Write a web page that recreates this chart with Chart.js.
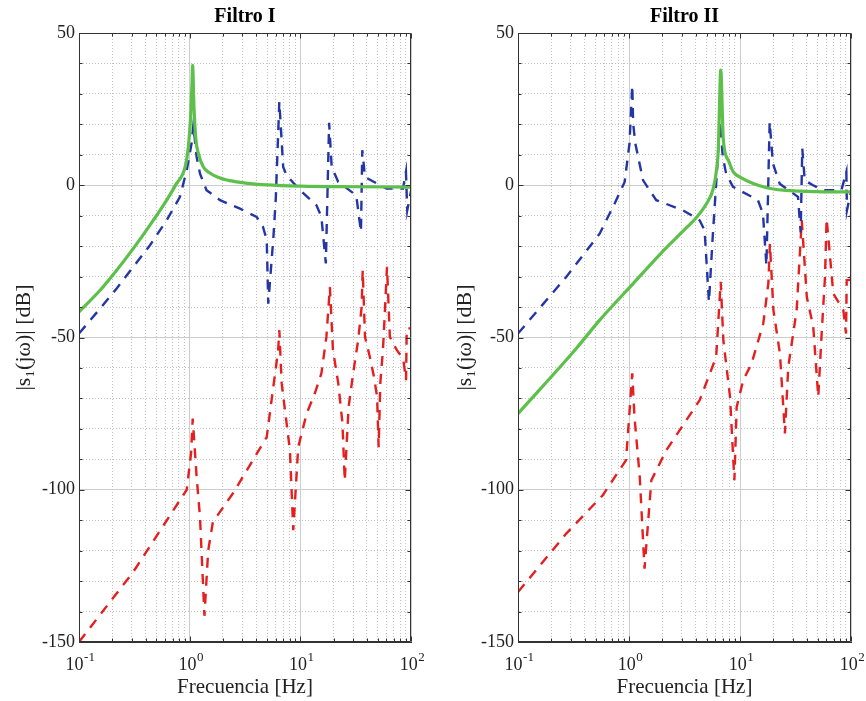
<!DOCTYPE html>
<html lang="es">
<head>
<meta charset="UTF-8">
<title>Filtro I / Filtro II</title>
<script src="https://cdn.jsdelivr.net/npm/chart.js"></script>
<style>
  html, body { margin: 0; padding: 0; background: #fff; }
  #wrap { position: relative; width: 866px; height: 701px; }
  .box { position: absolute; top: 0; width: 433px; height: 701px; }
  #box1 { left: 0; }
  #box2 { left: 433px; }
</style>
</head>
<body>
<div id="wrap">
  <div class="box" id="box1"><canvas id="chart1" width="433" height="701"></canvas></div>
  <div class="box" id="box2"><canvas id="chart2" width="433" height="701"></canvas></div>
</div>

<script>
// Axis ticks
const xMajorTicks = [0.1, 1, 10, 100];
const xTickBase = ['10', '10', '10', '10'];
const xTickExp = ['-1', '0', '1', '2'];
const yTickValues = [50, 0, -50, -100, -150];
const yTickLabels = ['50', '0', '-50', '-100', '-150'];

// Filtro I - green (solid)
const f1Green  = [0.1, 0.155, 0.219, 0.309, 0.438, 0.62, 0.75, 0.91, 0.973, 1.02, 1.05, 1.062, 1.094, 1.14, 1.2, 1.33, 1.5, 1.8, 2.3, 3.2, 5, 10, 30, 100];
const db1Green = [-41.6, -34.5, -27.9, -20.8, -13.1, -4.9, 0.2, 6, 12.6, 22.4, 33.4, 39.4, 25.7, 14.8, 10.4, 6, 4.2, 2.6, 1.5, 0.7, 0.1, -0.3, -0.5, -0.6];

// Filtro I - blue (dashed)
const f1Blue  = [0.1, 0.155, 0.219, 0.309, 0.438, 0.62, 0.817, 0.94, 1.04, 1.08, 1.156, 1.24, 1.42, 1.88, 2.85, 4.03, 4.6, 4.97, 5.13, 5.7, 6.0, 6.46, 7.0, 7.5, 9.9, 14, 15.5, 17, 18.2, 19.2, 22, 32, 35.3, 36.3, 38.4, 60, 84.6, 90, 92.5, 100];
const db1Blue = [-48.7, -40.5, -33.9, -26.8, -19.7, -11.5, -3.8, 4.9, 13.7, 19.7, 9.3, 3.8, -1.6, -4.9, -7.7, -10.4, -13.7, -18, -38.9, -17.5, -4.4, 27.4, 6, 3.3, -1.6, -6.6, -10.4, -25.7, 20.5, 6, 1.1, -3.3, -15.3, 11.5, 2.7, -1.1, -1.1, 4.4, -8.2, -2];

// Filtro I - red (dashed)
const f1Red  = [0.1, 0.309, 0.94, 1.03, 1.065, 1.156, 1.24, 1.36, 1.47, 1.62, 2.48, 4.97, 6.3, 6.46, 6.78, 8.05, 8.63, 9.57, 11.4, 13.5, 15.5, 17.2, 18.5, 19.7, 22, 24, 25.2, 27.3, 30, 33.3, 35.8, 36.6, 38.4, 42.5, 46.3, 49.4, 51, 52.8, 55.8, 57.8, 60.7, 64.4, 74, 85, 90.2, 91.5, 100];
const db1Red = [-150, -127, -100, -88, -76.6, -95.8, -109, -141.4, -120, -110.6, -101, -82.7, -54.2, -47.6, -65, -87, -113.3, -86, -75, -68.4, -61.8, -49.8, -33.4, -54, -65, -78, -97, -72.8, -61.8, -50.9, -40, -27.9, -49.8, -56.4, -63, -69.5, -86, -65, -54, -43, -26.8, -49.8, -54, -57, -64, -47, -47];

// Filtro II - green (solid)
const f2Green  = [0.1, 0.335, 0.544, 1.09, 2.17, 3.08, 4.07, 5.0, 5.75, 6.17, 6.38, 6.52, 6.7, 7.08, 7.86, 8.7, 10, 17.4, 34.7, 100];
const db2Green = [-75, -53.6, -44.3, -32.3, -20.5, -15, -10.5, -6, -1, 5.5, 12, 24.6, 37.8, 14.8, 8.2, 4.4, 2.7, -0.8, -1.9, -2.2];

// Filtro II - blue (dashed)
const f2Blue  = [0.1, 0.272, 0.544, 0.743, 0.914, 1.01, 1.07, 1.09, 1.14, 1.34, 1.76, 3.06, 4.33, 4.8, 5.25, 5.7, 6.1, 6.6, 7.0, 7.5, 8.65, 14.5, 16.1, 17.3, 18.5, 19.8, 22.8, 33.3, 35.2, 36.4, 38.3, 45.5, 56, 82, 90.8, 92, 100];
const db2Blue = [-48.7, -30.1, -15.9, -6, 1.1, 13.7, 32.8, 20.3, 13.7, 1.6, -4.9, -8.2, -11.5, -14.8, -38.3, -15.9, 0.5, 20.8, 9.3, 3.8, -0.5, -4.9, -9.3, -26.3, 20.8, 7.1, 0.5, -3.8, -15.5, 12, 1.6, 0, -1.6, -1.6, 4.4, -8.2, -2];

// Filtro II - red (dashed)
const f2Red  = [0.1, 0.272, 0.58, 0.94, 1.07, 1.12, 1.25, 1.38, 1.59, 2.17, 4.33, 6.1, 6.7, 7.08, 8.13, 8.9, 9.33, 10.7, 12.7, 16.2, 18, 18.6, 20, 22.9, 25.4, 27.2, 32.4, 36, 40, 45.7, 50.7, 54.4, 58.3, 60.3, 69.3, 85.3, 90.2, 91.5, 100];
const db2Red = [-133.6, -114.4, -101.8, -90.3, -61.8, -76, -95.8, -125.9, -96.9, -87, -70.6, -56.4, -31.7, -50.9, -69.5, -96.9, -72.8, -64, -58.6, -45.4, -32.3, -19.2, -41, -55.3, -81.5, -59.7, -41, -11.5, -36.7, -46.5, -69.5, -48.7, -30.1, -11, -35.6, -41, -48.7, -31.2, -31];

const FONT = "'Liberation Serif', 'Times New Roman', serif";
const GREEN = '#5dc04b';
const BLUE = '#2436a6';
const RED = '#e41f1f';

// log grid positions: 1..9 per decade
const xGridValues = [];
[0.1, 1, 10].forEach(d => { for (let k = 1; k <= 9; k++) xGridValues.push(+(k * d).toPrecision(3)); });
xGridValues.push(100);

function xMajorIndex(v) {
  return xMajorTicks.findIndex(m => Math.abs(Math.log10(v) - Math.log10(m)) < 1e-6);
}
function isYMajor(v) {
  return yTickValues.includes(v);
}

function pts(xs, ys) {
  return xs.map((x, i) => ({ x: x, y: ys[i] }));
}

// box around the plot area with inward ticks, plus 10^n tick labels
const boxTicks = {
  id: 'boxTicks',
  afterDraw(chart) {
    const { ctx, chartArea: a, scales } = chart;
    const L = Math.round(a.left) + 0.5, R = Math.round(a.right) - 0.5;
    const T = Math.round(a.top) + 0.5, B = Math.round(a.bottom) - 0.5;
    ctx.save();
    ctx.strokeStyle = '#333';
    ctx.lineWidth = 1;
    ctx.beginPath();
    ctx.rect(L, T, R - L, B - T);
    xGridValues.forEach(v => {
      const len = xMajorIndex(v) >= 0 ? 5 : 3;
      const px = Math.round(scales.x.getPixelForValue(v)) + 0.5;
      ctx.moveTo(px, B); ctx.lineTo(px, B - len);
      ctx.moveTo(px, T); ctx.lineTo(px, T + len);
    });
    for (let v = -150; v <= 50; v += 10) {
      const len = isYMajor(v) ? 5 : 3;
      const py = Math.round(scales.y.getPixelForValue(v)) + 0.5;
      ctx.moveTo(L, py); ctx.lineTo(L + len, py);
      ctx.moveTo(R, py); ctx.lineTo(R - len, py);
    }
    ctx.stroke();

    // tick labels 10 with superscript exponent
    ctx.fillStyle = '#222';
    ctx.textBaseline = 'alphabetic';
    ctx.textAlign = 'left';
    const baseFont = '18px ' + FONT, expFont = '13px ' + FONT;
    xMajorTicks.forEach((v, i) => {
      ctx.font = baseFont;
      const wb = ctx.measureText(xTickBase[i]).width;
      ctx.font = expFont;
      const we = ctx.measureText(xTickExp[i]).width;
      const px = scales.x.getPixelForValue(v);
      const x0 = px - (wb + we) / 2 + 1;
      const y0 = a.bottom + 28;
      ctx.font = baseFont;
      ctx.fillText(xTickBase[i], x0, y0);
      ctx.font = expFont;
      ctx.fillText(xTickExp[i], x0 + wb + 0.5, y0 - 9);
    });
    ctx.restore();
  }
};

function makeChart(id, title, yWidth, yTitlePad, padRight, green, blue, red) {
  return new Chart(document.getElementById(id), {
    type: 'line',
    data: {
      datasets: [
        { data: green, borderColor: GREEN, borderWidth: 3.2, pointRadius: 0, cubicInterpolationMode: 'monotone' },
        { data: blue, borderColor: BLUE, borderWidth: 2.4, borderDash: [10, 8], pointRadius: 0, tension: 0 },
        { data: red, borderColor: RED, borderWidth: 2.4, borderDash: [10, 8], pointRadius: 0, tension: 0 }
      ]
    },
    options: {
      responsive: false,
      animation: false,
      events: [],
      layout: { padding: { left: 0, right: padRight, top: 0, bottom: 0 } },
      plugins: {
        legend: { display: false },
        tooltip: { enabled: false },
        title: {
          display: true,
          text: title,
          fullSize: false,
          color: '#000',
          font: { family: FONT, size: 20, weight: 'bold', lineHeight: '22px' },
          padding: { top: 6, bottom: 5 }
        }
      },
      scales: {
        x: {
          type: 'logarithmic',
          min: 0.1,
          max: 100,
          afterBuildTicks: s => { s.ticks = xGridValues.map(v => ({ value: v })); },
          afterFit: s => { s.height = 59; },
          ticks: {
            autoSkip: false,
            maxRotation: 0,
            callback: () => ''
          },
          grid: {
            drawTicks: false,
            lineWidth: 1,
            color: c => (c.tick && xMajorIndex(c.tick.value) >= 0) ? '#cccccc' : '#c2c2c2'
          },
          border: {
            display: true,
            color: '#333',
            width: 1,
            dash: c => (c.tick && xMajorIndex(c.tick.value) < 0) ? [1, 2] : []
          },
          title: {
            display: true,
            text: 'Frecuencia [Hz]',
            color: '#222',
            font: { family: FONT, size: 21 },
            padding: { top: 0, bottom: 1 }
          }
        },
        y: {
          min: -150,
          max: 50,
          afterFit: s => { s.width = yWidth; },
          ticks: {
            stepSize: 10,
            autoSkip: false,
            padding: 4,
            color: '#222',
            font: { family: FONT, size: 18 },
            callback: v => {
              const i = yTickValues.indexOf(v);
              return i >= 0 ? yTickLabels[i] : '';
            }
          },
          grid: {
            drawTicks: false,
            lineWidth: 1,
            color: c => (c.tick && isYMajor(c.tick.value)) ? '#cccccc' : '#c2c2c2'
          },
          border: {
            display: true,
            color: '#333',
            width: 1,
            dash: c => (c.tick && !isYMajor(c.tick.value)) ? [1, 2] : []
          },
          title: {
            display: true,
            text: '|s₁(jω)| [dB]',
            color: '#222',
            font: { family: FONT, size: 22 },
            padding: { top: yTitlePad, bottom: 0 }
          }
        }
      }
    },
    plugins: [boxTicks]
  });
}

makeChart('chart1', 'Filtro I', 79, 11, 22,
  pts(f1Green, db1Green), pts(f1Blue, db1Blue), pts(f1Red, db1Red));
makeChart('chart2', 'Filtro II', 85, 19, 15,
  pts(f2Green, db2Green), pts(f2Blue, db2Blue), pts(f2Red, db2Red));
</script>
</body>
</html>
